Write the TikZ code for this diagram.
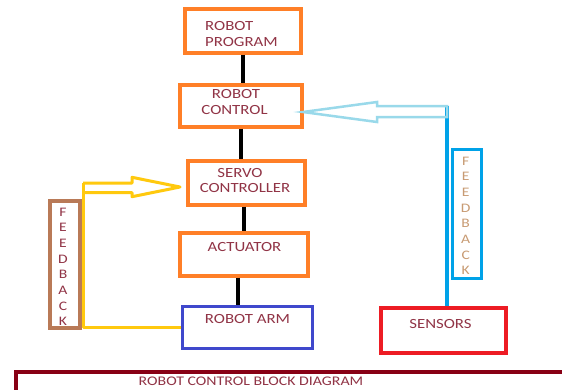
\documentclass[tikz,border=0pt]{standalone}
\usepackage{fontspec}
\setmainfont[FakeStretch=1.2]{Carlito}
\definecolor{oboxc}{HTML}{FF7F27}
\definecolor{bboxc}{HTML}{3F48CC}
\definecolor{rboxc}{HTML}{ED1C24}
\definecolor{brownc}{HTML}{B97A57}
\definecolor{yelc}{HTML}{FFC90E}
\definecolor{lbluec}{HTML}{99D9EA}
\definecolor{bluec}{HTML}{00A2E8}
\definecolor{dredc}{HTML}{880015}
\definecolor{txtc}{RGB}{145,52,70}
\definecolor{tanc}{RGB}{200,155,115}
\tikzset{
  boxbase/.style={draw, inner sep=0pt, line width=4pt},
  obox/.style={boxbase, draw=oboxc},
  bbox/.style={boxbase, draw=bboxc, line width=3.5pt},
  rbox/.style={boxbase, draw=rboxc},
  fbbrown/.style={boxbase, draw=brownc},
  fbblue/.style={boxbase, draw=bluec, line width=3.5pt},
  lbl/.style={anchor=base, inner sep=0pt, text=txtc, font=\fontsize{14}{16}\selectfont},
  lbll/.style={lbl, anchor=base west},
  fbl/.style={anchor=base, inner sep=0pt, text=txtc, font=\fontsize{13}{15}\selectfont},
  fbt/.style={fbl, text=tanc},
  link/.style={line width=4pt, black},
  yel/.style={draw=yelc, line width=3pt, line join=round},
  lbl2/.style={draw=lbluec, line width=2.5pt, line join=miter},
  bline/.style={draw=bluec, line width=4pt}
}
\begin{document}
\begin{tikzpicture}[x=1pt,y=-1pt]
\useasboundingbox (0,0) rectangle (562,389);
\clip (0,0) rectangle (562,389);
\fill[white] (0,0) rectangle (562,389);
% boxes
\node[obox, minimum width=116pt, minimum height=44pt] (prog) at (242.5,30.5) {};
\node[obox, minimum width=122pt, minimum height=42pt] (ctrl) at (240.5,105.5) {};
\node[obox, minimum width=117pt, minimum height=44pt] (servo) at (246,182.5) {};
\node[obox, minimum width=128pt, minimum height=43pt] (act) at (243.5,254) {};
\node[bbox, minimum width=130pt, minimum height=42pt] (arm) at (247.5,327.5) {};
\node[rbox, minimum width=125pt, minimum height=45pt] (sens) at (443,330) {};
\node[fbbrown, minimum width=30pt, minimum height=127pt] (fbleft) at (64.5,264) {};
\node[fbblue, minimum width=29pt, minimum height=129pt] (fbright) at (467,214) {};
\node[draw=dredc, line width=4pt, inner sep=0pt, minimum width=580pt, minimum height=40pt, anchor=north west] (title) at (14,370) {};
% labels
\node[lbll] (t1) at (205,30.5) {ROBOT};
\node[lbll] (t2) at (205,46) {PROGRAM};
\node[lbl] (t3) at (236,98.7) {ROBOT};
\node[lbl] (t4) at (234.5,114.3) {CONTROL};
\node[lbl] (t5) at (240,177) {SERVO};
\node[lbl] (t6) at (245,192.5) {CONTROLLER};
\node[lbl] (t7) at (244.5,251) {ACTUATOR};
\node[lbl] (t8) at (247.5,323.3) {ROBOT ARM};
\node[lbl] (t9) at (440.5,328.3) {SENSORS};
\node[lbl, font=\fontsize{13.2}{15}\selectfont] (t10) at (251,385) {ROBOT CONTROL BLOCK DIAGRAM};
\foreach \l [count=\i] in {F,E,E,D,B,A,C,K} {
  \node[fbl] (fa\i) at (63,216+15.67*\i-15.67) {\l};
  \node[fbt] (fb\i) at (465.7,165+15.7*\i-15.7) {\l};
}
% black links
\draw[link] (prog.south) -- (prog.south |- ctrl.north);
\draw[link] (ctrl.south) -- (ctrl.south |- servo.north);
\draw[link] (act.north |- servo.south) -- (act.north);
\draw[link] ([xshift=-5.5pt]act.south) -- ([xshift=-5.5pt]act.south |- arm.north);
% yellow feedback
\coordinate (ytail) at (83,183);
\coordinate (ytip) at (180,187);
\draw[yel] (ytail) -- (132,183) -- (132,177.3) -- (ytip) -- (132,196.7) -- (132,192.7) -- (83,192.7);
\draw[yel] (ytail) -- (ytail |- arm.west) -- (arm.west);
% blue feedback
\coordinate (lbtail) at (447,106);
\coordinate (lbtip) at (303,112);
\draw[bline] (lbtail) -- (lbtail |- sens.north);
\draw[lbl2] (447,106) -- (377,106) -- (377,102) -- (lbtip) -- (377,122) -- (377,117) -- (447,117) -- cycle;
\end{tikzpicture}
\end{document}
